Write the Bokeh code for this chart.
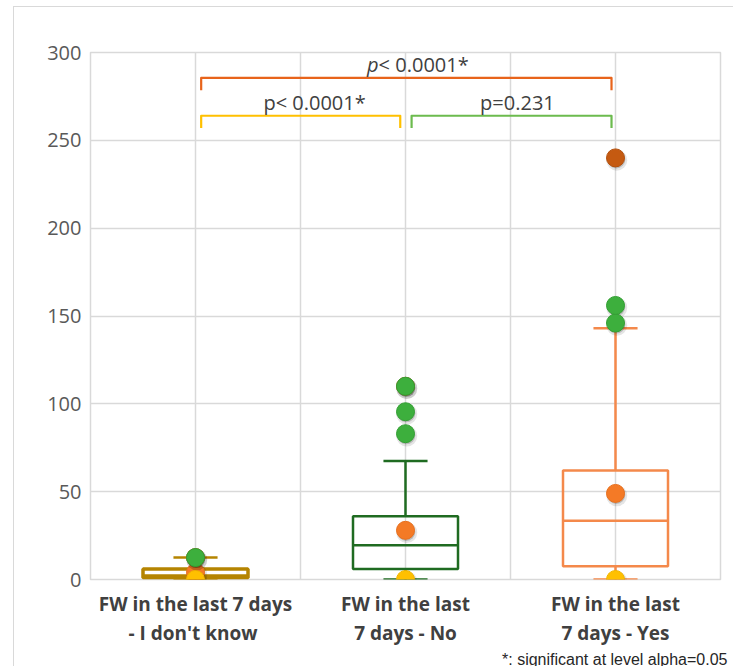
from bokeh.plotting import figure
from bokeh.models import Range1d, FixedTicker, Title, ColumnDataSource
from bokeh.transform import dodge
from bokeh.core.properties import value
from bokeh.embed import file_html
from bokeh.resources import INLINE

# ---------------- data ----------------
categories = ["FW in the last 7 days\n- I  don't know",
              "FW in the last\n7 days - No",
              "FW in the last\n7 days - Yes"]
cat_pos = [1, 2, 3]
q1 = [1.0, 6.0, 7.5]
median = [2.0, 19.5, 33.5]
q3 = [6.0, 36.0, 62.0]
whisker_low = [0.0, 0.0, 0.0]
whisker_high = [12.5, 67.5, 143.0]
mean = [4.0, 28.0, 49.0]
minimum = [0.0, 0.0, 0.0]
maximum = [12.5, 110.0, 240.0]
outlier_cat = [1, 2, 2, 2, 3, 3]
outlier_val = [12.5, 83.0, 95.5, 110.0, 146.0, 156.0]
y_ticks = [0, 50, 100, 150, 200, 250, 300]
p_labels = ["p< 0.0001*", "p=0.231", "p< 0.0001*"]
footnote = "*: significant at level alpha=0.05"

# ---------------- styles ----------------
box_colors = ["#B58400", "#1F6B21", "#F4894B"]
box_widths = [3.5, 2.5, 2.5]
FONT = "Open Sans"
GRID = "#D9D9D9"

p = figure(width=720, height=660, x_range=Range1d(0.5, 3.5), y_range=Range1d(0, 300),
           output_backend="svg", toolbar_location=None,
           min_border_left=76, min_border_right=14, min_border_top=45, min_border_bottom=87)
p.margin = (6, 0, 0, 13)
p.styles = {"border-top": "1px solid #D9D9D9", "border-left": "1px solid #D9D9D9"}
p.background_fill_color = "white"
p.border_fill_color = "white"
p.outline_line_color = GRID
p.outline_line_width = 1.5

p.xgrid.ticker = FixedTicker(ticks=[1, 1.5, 2, 2.5, 3])
p.ygrid.ticker = FixedTicker(ticks=y_ticks)
for g in (p.xgrid, p.ygrid):
    g.grid_line_color = GRID
    g.grid_line_width = 1.5

p.yaxis.ticker = FixedTicker(ticks=y_ticks)
p.yaxis.axis_line_color = None
p.yaxis.major_tick_line_color = None
p.yaxis.minor_tick_line_color = None
p.yaxis.major_tick_out = 0
p.yaxis.major_tick_in = 0
p.yaxis.major_label_text_font = FONT
p.yaxis.major_label_text_font_size = "20px"
p.yaxis.major_label_text_color = "#595959"
p.yaxis.major_label_standoff = 9

p.xaxis.ticker = FixedTicker(ticks=cat_pos)
p.xaxis.major_label_overrides = {c: lab for c, lab in zip(cat_pos, categories)}
p.xaxis.axis_line_color = None
p.xaxis.major_tick_line_color = None
p.xaxis.minor_tick_line_color = None
p.xaxis.major_tick_out = 0
p.xaxis.major_tick_in = 0
p.xaxis.major_label_text_font = FONT
p.xaxis.major_label_text_font_style = "bold"
p.xaxis.major_label_text_font_size = "19px"
p.xaxis.major_label_text_color = "#404040"
p.xaxis.major_label_text_line_height = 1.12
p.xaxis.major_label_standoff = 11

src = ColumnDataSource(dict(x=cat_pos, q1=q1, med=median, q3=q3, wl=whisker_low, wh=whisker_high,
                            color=box_colors, lw=box_widths))
half = 0.25
cap = 0.105
# whiskers
p.segment(x0="x", y0="q3", x1="x", y1="wh", source=src, line_color="color", line_width=2.5)
p.segment(x0="x", y0="q1", x1="x", y1="wl", source=src, line_color="color", line_width=2.5)
p.segment(x0=dodge("x", -cap), y0="wh", x1=dodge("x", cap), y1="wh", source=src, line_color="color", line_width=2.5)
p.segment(x0=dodge("x", -cap), y0="wl", x1=dodge("x", cap), y1="wl", source=src, line_color="color", line_width="lw")
# boxes
p.quad(left=dodge("x", -half), right=dodge("x", half), bottom="q1", top="q3", source=src,
       fill_color=None, line_color="color", line_width="lw")
p.segment(x0=dodge("x", -half), y0="med", x1=dodge("x", half), y1="med", source=src,
          line_color="color", line_width="lw")

# points (with a soft drop shadow)
DOT = 18
pts = [(cat_pos, mean, "#F47A26", "#E8701E"),
       (cat_pos, minimum, "#FFC000", "#F2B600"),
       (cat_pos, maximum, "#C55A11", "#B4500C"),
       (outlier_cat, outlier_val, "#3DAF3D", "#34A034")]
for xs, ys, fc, lc in pts:
    sh = ColumnDataSource(dict(x=xs, y=ys))
    p.scatter(x=dodge("x", 0.006), y=dodge("y", -1.3), source=sh, size=DOT + 3,
              fill_color="black", fill_alpha=0.10, line_color=None)
    p.scatter(x=dodge("x", 0.004), y=dodge("y", -0.9), source=sh, size=DOT,
              fill_color="black", fill_alpha=0.18, line_color=None)
    p.scatter(x="x", y="y", source=sh, size=DOT, fill_color=fc, line_color=lc, line_width=1)

# significance brackets
br_x0 = [1.027, 2.029, 1.027]
br_x1 = [1.975, 2.981, 2.981]
br_top = [264.0, 264.0, 285.5]
br_bot = [257.0, 257.0, 278.5]
br_col = ["#FFC000", "#6CBB4E", "#E8641B"]
for a, b, t, bt, c in zip(br_x0, br_x1, br_top, br_bot, br_col):
    p.line([a, a, b, b], [bt, t, t, bt], line_color=c, line_width=2.2, line_join="round")

txt_kw = dict(text_font=value(FONT), text_font_size="20px", text_color="#404040", text_baseline="middle")
p.text(x=[1.567, 2.533], y=[271.5, 271.5], text=[p_labels[0], p_labels[1]], text_align="center", **txt_kw)
p.text(x=[1.872], y=[293.0], text=["p"], text_align="right", text_font_style="italic", **txt_kw)
p.text(x=[1.872], y=[293.0], text=[p_labels[2][1:]], text_align="left", **txt_kw)

p.add_layout(Title(text=footnote, align="right", text_font="Liberation Sans", text_font_size="16px",
                   text_font_style="normal", text_color="#262626", standoff=0, offset=-7), "below")

open("out.html", "w").write(file_html(p, INLINE))
